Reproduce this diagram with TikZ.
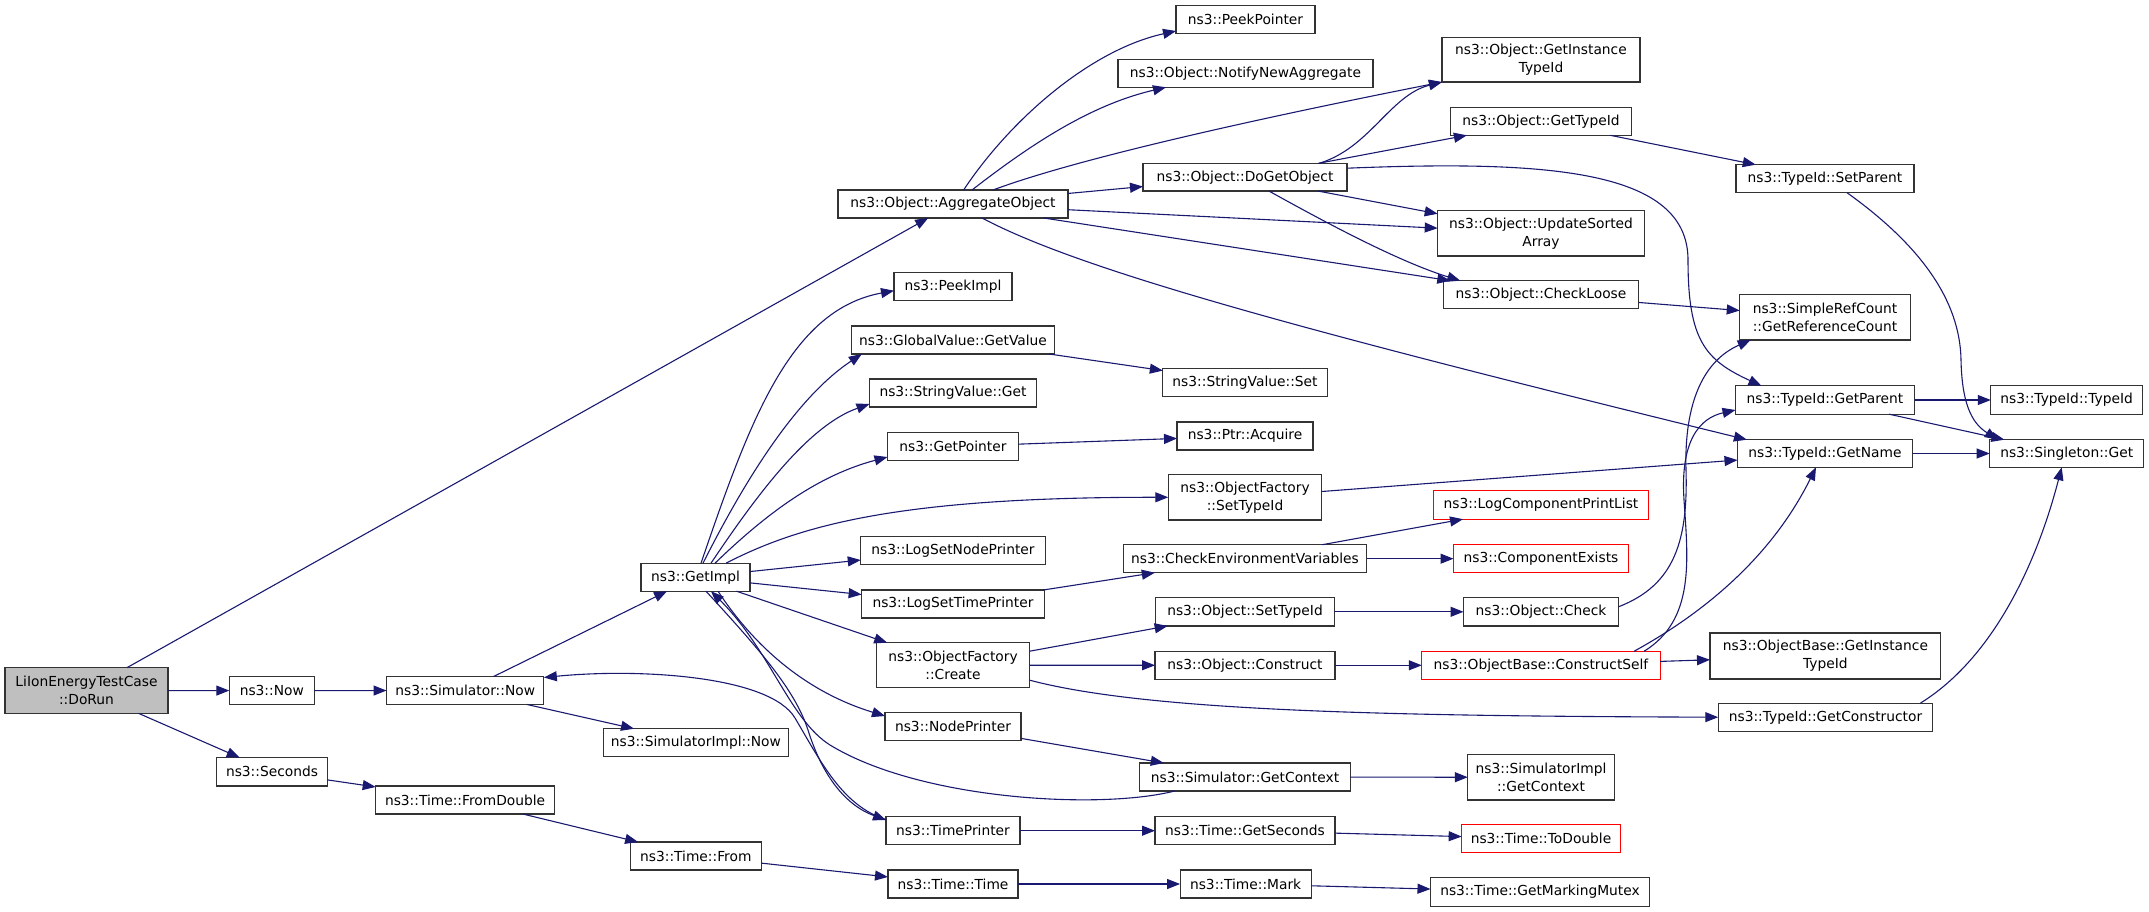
\documentclass[tikz,border=0pt]{standalone}
\usepackage{fontspec}
\setmainfont{DejaVu Sans}
\usetikzlibrary{arrows.meta,calc}
\definecolor{edgec}{HTML}{191970}
\definecolor{bord}{HTML}{333333}
\tikzset{
  box/.style={draw=bord, line width=1.1pt, fill=white, inner sep=0pt, outer sep=0pt, align=center, font=\fontsize{13.8}{17.8}\selectfont},
  redbox/.style={box, draw=red},
  call/.style={draw=edgec, line width=1.1pt, -{Triangle[length=13pt,width=10pt]}}
}
\begin{document}
\begin{tikzpicture}[x=1pt,y=-1pt]
\path[use as bounding box] (0,0) rectangle (2149,912);
% nodes
\node[box, fill=black!25, minimum width=163pt, minimum height=45.6pt] (dorun) at (86.5,690.5) {LiIonEnergyTestCase\\::DoRun};
\node[box, minimum width=85pt, minimum height=28.3pt] (now) at (271.8,690.6) {ns3::Now};
\node[box, minimum width=157.3pt, minimum height=28pt] (simnow) at (465.2,690.5) {ns3::Simulator::Now};
\node[box, minimum width=185.7pt, minimum height=28pt] (simimplnow) at (695.9,742.7) {ns3::SimulatorImpl::Now};
\node[box, minimum width=110.6pt, minimum height=28.3pt] (seconds) at (272,771.8) {ns3::Seconds};
\node[box, minimum width=178.8pt, minimum height=28pt] (fromdouble) at (465.1,800) {ns3::Time::FromDouble};
\node[box, minimum width=131pt, minimum height=28pt] (timefrom) at (695.8,856) {ns3::Time::From};
\node[box, minimum width=109pt, minimum height=28pt] (getimpl) at (695.5,577.2) {ns3::GetImpl};
\node[box, minimum width=230pt, minimum height=28pt] (agg) at (953,204) {ns3::Object::AggregateObject};
\node[box, minimum width=118pt, minimum height=28pt] (peekimpl) at (953,286.7) {ns3::PeekImpl};
\node[box, minimum width=203.6pt, minimum height=28pt] (gvget) at (953,340) {ns3::GlobalValue::GetValue};
\node[box, minimum width=167pt, minimum height=28pt] (svget) at (953,393) {ns3::StringValue::Get};
\node[box, minimum width=131pt, minimum height=28pt] (getptr) at (953,446.5) {ns3::GetPointer};
\node[box, minimum width=184.5pt, minimum height=28pt] (lsnp) at (953,550.5) {ns3::LogSetNodePrinter};
\node[box, minimum width=182.7pt, minimum height=28pt] (lstp) at (953,604) {ns3::LogSetTimePrinter};
\node[box, minimum width=153.5pt, minimum height=45pt] (ofcreate) at (953,665.2) {ns3::ObjectFactory\\::Create};
\node[box, minimum width=136pt, minimum height=28pt] (nodeprinter) at (953,726.7) {ns3::NodePrinter};
\node[box, minimum width=134pt, minimum height=28pt] (timeprinter) at (953,830.7) {ns3::TimePrinter};
\node[box, minimum width=130pt, minimum height=28pt] (timetime) at (953,884) {ns3::Time::Time};
\node[box, minimum width=139pt, minimum height=28.3pt] (peekptr) at (1245.5,19.8) {ns3::PeekPointer};
\node[box, minimum width=255pt, minimum height=28pt] (notify) at (1245.5,73.3) {ns3::Object::NotifyNewAggregate};
\node[box, minimum width=204pt, minimum height=27.7pt] (dogetobj) at (1245,177.2) {ns3::Object::DoGetObject};
\node[box, minimum width=164.3pt, minimum height=28.4pt] (svset) at (1245,382.5) {ns3::StringValue::Set};
\node[box, minimum width=136pt, minimum height=28pt] (acquire) at (1245,436) {ns3::Ptr::Acquire};
\node[box, minimum width=153.5pt, minimum height=45.3pt] (ofsettype) at (1245,497.3) {ns3::ObjectFactory\\::SetTypeId};
\node[box, minimum width=243pt, minimum height=28pt] (checkenv) at (1245,558.7) {ns3::CheckEnvironmentVariables};
\node[box, minimum width=178.7pt, minimum height=28.3pt] (objsettype) at (1245,611.8) {ns3::Object::SetTypeId};
\node[box, minimum width=180pt, minimum height=28pt] (construct) at (1245,665.3) {ns3::Object::Construct};
\node[box, minimum width=210.7pt, minimum height=28pt] (simgetctx) at (1245,777) {ns3::Simulator::GetContext};
\node[box, minimum width=180pt, minimum height=28pt] (getseconds) at (1245,830.7) {ns3::Time::GetSeconds};
\node[box, minimum width=131pt, minimum height=28pt] (mark) at (1245.6,884) {ns3::Time::Mark};
\node[box, minimum width=198pt, minimum height=44.7pt] (getinst) at (1541,59.7) {ns3::Object::GetInstance\\TypeId};
\node[box, minimum width=181.5pt, minimum height=28pt] (gettypeid) at (1541,121.3) {ns3::Object::GetTypeId};
\node[box, minimum width=206.6pt, minimum height=45.3pt] (update) at (1541,233.3) {ns3::Object::UpdateSorted\\Array};
\node[box, minimum width=195.4pt, minimum height=28pt] (checkloose) at (1541,294.7) {ns3::Object::CheckLoose};
\node[redbox, minimum width=215pt, minimum height=28.3pt] (logcpl) at (1541,505) {ns3::LogComponentPrintList};
\node[redbox, minimum width=175pt, minimum height=28pt] (compexists) at (1541,558.7) {ns3::ComponentExists};
\node[box, minimum width=155pt, minimum height=28.3pt] (check) at (1541,611.8) {ns3::Object::Check};
\node[redbox, minimum width=238.4pt, minimum height=28pt] (constructself) at (1541,665.3) {ns3::ObjectBase::ConstructSelf};
\node[box, minimum width=146.4pt, minimum height=45.3pt] (simimplgetctx) at (1541,777.3) {ns3::SimulatorImpl\\::GetContext};
\node[redbox, minimum width=158.7pt, minimum height=28pt] (todouble) at (1541,838.7) {ns3::Time::ToDouble};
\node[box, minimum width=219pt, minimum height=28.3pt] (marking) at (1540,892) {ns3::Time::GetMarkingMutex};
\node[box, minimum width=178pt, minimum height=28pt] (setparent) at (1825,178.7) {ns3::TypeId::SetParent};
\node[box, minimum width=170.5pt, minimum height=45.3pt] (refcount) at (1825,317.3) {ns3::SimpleRefCount\\::GetReferenceCount};
\node[box, minimum width=179pt, minimum height=28.3pt] (getparent) at (1825,400) {ns3::TypeId::GetParent};
\node[box, minimum width=175pt, minimum height=27.6pt] (getname) at (1825,453.5) {ns3::TypeId::GetName};
\node[box, minimum width=230.8pt, minimum height=46pt] (obgetinst) at (1825.4,656) {ns3::ObjectBase::GetInstance\\TypeId};
\node[box, minimum width=214.5pt, minimum height=28.3pt] (getctor) at (1825.5,717.2) {ns3::TypeId::GetConstructor};
\node[box, minimum width=151.6pt, minimum height=28.3pt] (typeidtypeid) at (2066.6,400) {ns3::TypeId::TypeId};
\node[box, minimum width=154pt, minimum height=27.6pt] (singleton) at (2066.7,453.5) {ns3::Singleton::Get};
% straight edges
\draw[call] (dorun) -- (now);
\draw[call] (dorun) -- (agg);
\draw[call] (dorun) -- (seconds);
\draw[call] (now) -- (simnow);
\draw[call] (simnow) -- (getimpl);
\draw[call] (simnow) -- (simimplnow);
\draw[call] (seconds) -- (fromdouble);
\draw[call] (fromdouble) -- (timefrom);
\draw[call] (timefrom) -- (timetime);
\draw[call] (timetime) -- (mark);
\draw[call] (mark) -- (marking);
\draw[call] (agg) -- (dogetobj);
\draw[call] (agg) -- (update);
\draw[call] (agg) -- (checkloose);
\draw[call] (dogetobj) -- (gettypeid);
\draw[call] (dogetobj) -- (update);
\draw[call] (gettypeid) -- (setparent);
\draw[call] (checkloose) -- (refcount);
\draw[call] (getparent) -- (typeidtypeid);
\draw[call] (getparent) -- (singleton);
\draw[call] (getname) -- (singleton);
\draw[call] (gvget) -- (svset);
\draw[call] (getptr) -- (acquire);
\draw[call] (ofsettype) -- (getname);
\draw[call] (getimpl) -- (lsnp);
\draw[call] (getimpl) -- (lstp);
\draw[call] (getimpl) -- (ofcreate);
\draw[call] (lstp) -- (checkenv);
\draw[call] (checkenv) -- (logcpl);
\draw[call] (checkenv) -- (compexists);
\draw[call] (ofcreate) -- (objsettype);
\draw[call] (ofcreate) -- (construct);
\draw[call] (objsettype) -- (check);
\draw[call] (construct) -- (constructself);
\draw[call] (constructself) -- (obgetinst);
\draw[call] (simgetctx) -- (simimplgetctx);
\draw[call] (timeprinter) -- (getseconds);
\draw[call] (getseconds) -- (todouble);
\draw[call] (nodeprinter) -- (simgetctx);
% curved edges
\draw[call] ($(agg.north)+(10.6,0)$) .. controls (1010,120) and (1090,50) .. ($(peekptr.west)+(0,11.2)$);
\draw[call] ($(agg.north)+(19,0)$) .. controls (1030,145) and (1090,105) .. ($(notify.south)+(-79.5,0)$);
\draw[call] ($(agg.north)+(40,0)$) .. controls (1060,165) and (1200,130) .. (getinst.south west);
\draw[call] ($(dogetobj.north)+(74,0)$) .. controls (1370,148) and (1390,95) .. (getinst.south west);
\draw[call] ($(dogetobj.east)+(0,-9)$) .. controls (1550,160) and (1688,170) .. (1688,260) .. controls (1688,340) and (1705,360) .. ($(getparent.north west)+(26,0)$);
\draw[call] ($(dogetobj.south)+(24,0)$) .. controls (1330,225) and (1400,262) .. ($(checkloose.north west)+(17,0)$);
\draw[call] ($(agg.south)+(29,0)$) .. controls (1080,270) and (1300,330) .. ($(getname.north west)+(9.4,0)$);
\draw[call] ($(setparent.south)+(22,0)$) .. controls (1920,245) and (1960,300) .. (1961,360) .. controls (1962,410) and (1975,425) .. ($(singleton.north west)+(8,0)$);
\draw[call] ($(check.east)+(0,-5)$) .. controls (1675,585) and (1688,540) .. (1686,470) .. controls (1684,400) and (1705,360) .. ($(refcount.south west)+(11,0)$);
\draw[call] ($(constructself.north)+(103,0)$) .. controls (1695,620) and (1688,560) .. (1684,500) .. controls (1680,440) and (1700,418) .. ($(getparent.west)+(0,10)$);
\draw[call] ($(constructself.north)+(93,0)$) .. controls (1700,615) and (1770,560) .. ($(getname.south)+(-9,0)$);
\draw[call] ($(ofcreate.east)+(0,15)$) .. controls (1150,712) and (1400,716) .. (getctor.west);
\draw[call] ($(getctor.north)+(95,0)$) .. controls (1990,660) and (2035,570) .. ($(singleton.south)+(-5,0)$);
\draw[call] ($(getimpl.north)+(5.5,0)$) .. controls (750,420) and (790,310) .. ($(peekimpl.west)+(0,4)$);
\draw[call] ($(getimpl.north)+(7.5,0)$) .. controls (750,470) and (800,395) .. ($(gvget.south west)+(10.6,0)$);
\draw[call] ($(getimpl.north)+(15.5,0)$) .. controls (760,490) and (810,425) .. ($(svget.west)+(0,11)$);
\draw[call] ($(getimpl.north)+(19.5,0)$) .. controls (770,510) and (820,475) .. ($(getptr.west)+(0,10.5)$);
\draw[call] ($(getimpl.north)+(30.5,0)$) .. controls (800,525) and (900,497) .. (ofsettype.west);
\draw[call] ($(getimpl.south)+(22.5,0)$) .. controls (750,640) and (800,690) .. ($(nodeprinter.north west)+(0,3.3)$);
\draw[call] ($(getimpl.south)+(10.5,0)$) .. controls (760,650) and (795,690) .. (808,730) .. controls (822,775) and (845,805) .. ($(timeprinter.north west)+(0,3.3)$);
\draw[call] ($(timeprinter.north west)+(0,2.8)$) .. controls (842,806) and (820,760) .. (795,718) .. controls (770,676) and (640,668) .. ($(simnow.north east)+(0,1)$);
\draw[call] ($(simgetctx.south west)+(35,0)$) .. controls (1100,810) and (920,800) .. (830,745) .. controls (790,720) and (770,650) .. ($(getimpl.south)+(15.5,0)$);
\end{tikzpicture}
\end{document}
